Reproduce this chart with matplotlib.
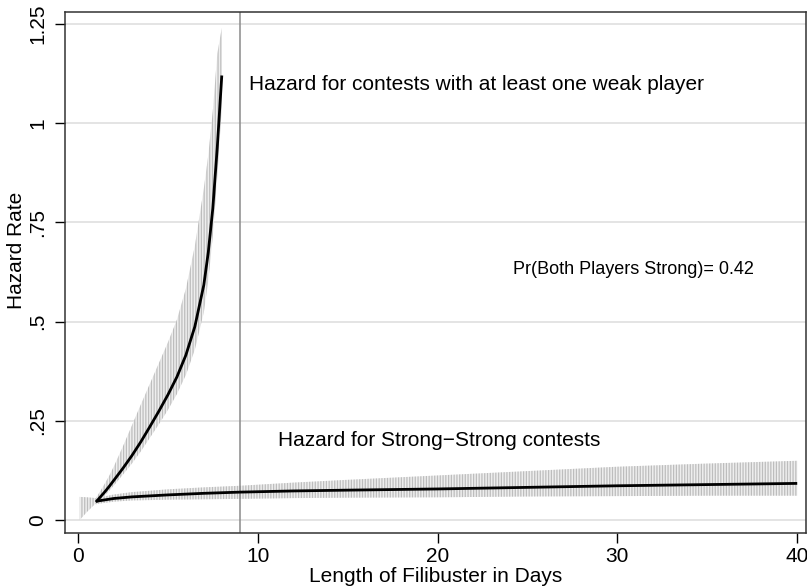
import matplotlib
matplotlib.use("Agg")
import matplotlib.pyplot as plt

plt.rcParams['font.family'] = ['Liberation Sans', 'DejaVu Sans']
plt.rcParams['hatch.linewidth'] = 0.9

# Weak-player contests (days 1..8)
weak_x = [1.0, 1.25, 1.5, 1.75, 2.0, 2.5, 3.0, 3.5, 4.0, 4.5, 5.0, 5.5, 6.0, 6.5,
          7.0, 7.25, 7.5, 7.75, 8.0]
weak_h = [0.045, 0.058, 0.071, 0.085, 0.100, 0.130, 0.162, 0.197, 0.235, 0.274, 0.315,
          0.360, 0.415, 0.487, 0.592, 0.675, 0.785, 0.940, 1.120]
weak_lo = [0.038, 0.050, 0.062, 0.074, 0.087, 0.114, 0.142, 0.173, 0.207, 0.241, 0.277,
           0.317, 0.365, 0.429, 0.523, 0.603, 0.716, 0.865, 1.040]
weak_up = [0.055, 0.073, 0.092, 0.112, 0.135, 0.185, 0.238, 0.291, 0.343, 0.395, 0.447,
           0.504, 0.582, 0.690, 0.835, 0.920, 1.030, 1.175, 1.240]

# Strong-Strong contests (days 1..40)
strong_x = [1, 2, 3, 5, 7, 9, 12, 15, 20, 25, 30, 35, 40]
strong_h = [0.047, 0.054, 0.058, 0.063, 0.067, 0.070, 0.073, 0.075, 0.078, 0.082, 0.086, 0.089, 0.092]
strong_lo = [0.040, 0.046, 0.049, 0.051, 0.052, 0.053, 0.055, 0.056, 0.057, 0.059, 0.060, 0.061, 0.061]
strong_up = [0.055, 0.064, 0.070, 0.077, 0.082, 0.086, 0.094, 0.101, 0.112, 0.123, 0.134, 0.142, 0.149]

# Early interval band (days 0..1)
early_x = [0.1, 0.5, 1.0]
early_lo = [0.0, 0.020, 0.042]
early_up = [0.058, 0.057, 0.055]

x_ticks = [0, 10, 20, 30, 40]
y_ticks = [0, 0.25, 0.5, 0.75, 1, 1.25]
y_tick_labels = ['0', '.25', '.5', '.75', '1', '1.25']
vline_x = 9

fig = plt.figure(figsize=(8.07, 5.87), dpi=100)
ax = fig.add_axes([65/807, 1-533/587, 1-65/807-0.001, (533-12)/587])

ax.set_xlim(-0.72, 40.5)
ax.set_ylim(-0.033, 1.28)

for y in y_ticks:
    ax.axhline(y, color='#dcdcdc', lw=1.1, zorder=0)

band_kw = dict(facecolor='#eeeeee', edgecolor='#bdbdbd', hatch='||||||', linewidth=0, zorder=1)
ax.fill_between(early_x, early_lo, early_up, **band_kw)
ax.fill_between(strong_x, strong_lo, strong_up, **band_kw)
ax.fill_between(weak_x, weak_lo, weak_up, **band_kw)

ax.axvline(vline_x, color='#8a8a8a', lw=1.1, zorder=2)

ax.plot(weak_x, weak_h, color='black', lw=2.0, zorder=3, solid_capstyle='butt')
ax.plot(strong_x, strong_h, color='black', lw=2.0, zorder=3, solid_capstyle='butt')

fs = 15
ax.text(9.5, 1.098, 'Hazard for contests with at least one weak player', fontsize=fs,
        va='center', ha='left')
ax.text(24.2, 0.63, 'Pr(Both Players Strong)= 0.42', fontsize=13, va='center', ha='left')
ax.text(11.1, 0.199, 'Hazard for Strong\u2212Strong contests', fontsize=fs, va='center', ha='left')

ax.set_xticks(x_ticks)
ax.set_yticks(y_ticks)
ax.set_yticklabels(y_tick_labels, rotation=90, va='center')
ax.tick_params(axis='both', direction='out', length=7, width=1, labelsize=fs, colors='black')
ax.tick_params(axis='x', pad=3)
ax.tick_params(axis='y', pad=6)
for s in ax.spines.values():
    s.set_color('#333333')
    s.set_linewidth(1.1)

ax.set_xlabel('Length of Filibuster in Days', fontsize=fs, labelpad=1)
ax.set_ylabel('Hazard Rate', fontsize=fs)
ax.yaxis.set_label_coords(-0.052, (533 - 250) / 521)

fig.savefig('out.png', dpi=100)
